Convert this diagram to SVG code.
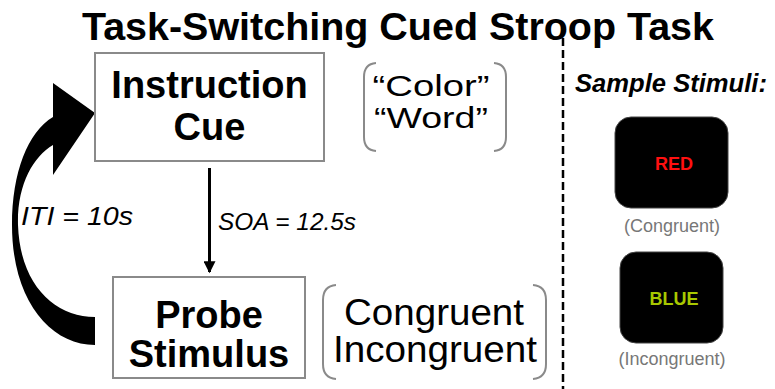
<svg xmlns="http://www.w3.org/2000/svg" width="775" height="389" viewBox="0 0 775 389">
<style>
.t{font-family:"Liberation Sans",Arial,sans-serif;fill:#000}
.b{font-weight:bold}
.i{font-style:italic}
.box{fill:#fff;stroke:#8a8a8a;stroke-width:2}
.br{fill:none;stroke:#8a8a8a;stroke-width:2}
.stim{fill:#000;stroke:#444;stroke-width:1}
.cap{font-family:"Liberation Sans",Arial,sans-serif;fill:#777;font-size:18px}
</style>
<defs>
<marker id="ah" viewBox="0 0 10 10" refX="9" refY="5" markerWidth="4.5" markerHeight="4" orient="auto">
<path d="M0,0 L10,5 L0,10 Z" fill="#000"/>
</marker>
</defs>
<rect width="775" height="389" fill="#fff"/>
<text class="t b" x="398" y="40" font-size="39" text-anchor="middle" textLength="632" lengthAdjust="spacingAndGlyphs">Task-Switching Cued Stroop Task</text>

<g id="connectors">
<line x1="209.5" y1="168" x2="209.5" y2="272" stroke="#000" stroke-width="3" marker-end="url(#ah)"/>
<path d="M95,317 C55,317 20,285 18,225 C17,185 33,157 53,145 L53,175 L95,113 L53,83 L53,117 C28,132 12,172 12,225 C12,300 50,345 95,345 Z" fill="#000"/>
<text class="t i" x="21" y="225" font-size="25" textLength="112" lengthAdjust="spacingAndGlyphs">ITI = 10s</text>
<text class="t i" x="218" y="230" font-size="24" textLength="138" lengthAdjust="spacingAndGlyphs">SOA = 12.5s</text>
</g>

<g id="instruction-cue">
<rect class="box" x="95" y="53" width="229" height="108"/>
<text class="t b" x="209.5" y="98" font-size="38" text-anchor="middle">Instruction</text>
<text class="t b" x="209.5" y="140" font-size="38" text-anchor="middle">Cue</text>
</g>

<g id="cue-options">
<path class="br" d="M376,63 Q364,64 364,77 L364,137 Q364,150 376,151"/>
<path class="br" d="M494,63 Q506,64 506,77 L506,137 Q506,150 494,151"/>
<text class="t" x="431" y="96" font-size="29" text-anchor="middle" textLength="117" lengthAdjust="spacingAndGlyphs">“Color”</text>
<text class="t" x="431" y="128" font-size="29" text-anchor="middle" textLength="114" lengthAdjust="spacingAndGlyphs">“Word”</text>
</g>

<g id="probe-stimulus">
<rect class="box" x="113" y="277" width="192" height="101"/>
<text class="t b" x="209" y="328" font-size="38" text-anchor="middle">Probe</text>
<text class="t b" x="209" y="367" font-size="38" text-anchor="middle">Stimulus</text>
</g>

<g id="probe-options">
<path class="br" d="M336,285 Q323,286 323,300 L323,364 Q323,378 336,379"/>
<path class="br" d="M533,285 Q546,286 546,300 L546,364 Q546,378 533,379"/>
<text class="t" x="434" y="325" font-size="36" text-anchor="middle" textLength="180" lengthAdjust="spacingAndGlyphs">Congruent</text>
<text class="t" x="435" y="362" font-size="36" text-anchor="middle" textLength="204" lengthAdjust="spacingAndGlyphs">Incongruent</text>
</g>

<line x1="563" y1="38" x2="563" y2="389" stroke="#000" stroke-width="2.5" stroke-dasharray="8,4"/>

<g id="sample-stimuli">
<text class="t b i" x="575" y="92" font-size="25" textLength="192" lengthAdjust="spacingAndGlyphs">Sample Stimuli:</text>
</g>

<g id="congruent-sample">
<rect class="stim" x="615" y="117" width="113" height="91" rx="16"/>
<text x="674" y="170" font-family="Liberation Sans,Arial,sans-serif" font-weight="bold" font-size="18" fill="#ff1010" text-anchor="middle">RED</text>
<text class="cap" x="672" y="232" text-anchor="middle">(Congruent)</text>
</g>

<g id="incongruent-sample">
<rect class="stim" x="620" y="252" width="103" height="91" rx="16"/>
<text x="674" y="305" font-family="Liberation Sans,Arial,sans-serif" font-weight="bold" font-size="18" fill="#a8c800" text-anchor="middle">BLUE</text>
<text class="cap" x="672" y="365" text-anchor="middle">(Incongruent)</text>
</g>
</svg>
